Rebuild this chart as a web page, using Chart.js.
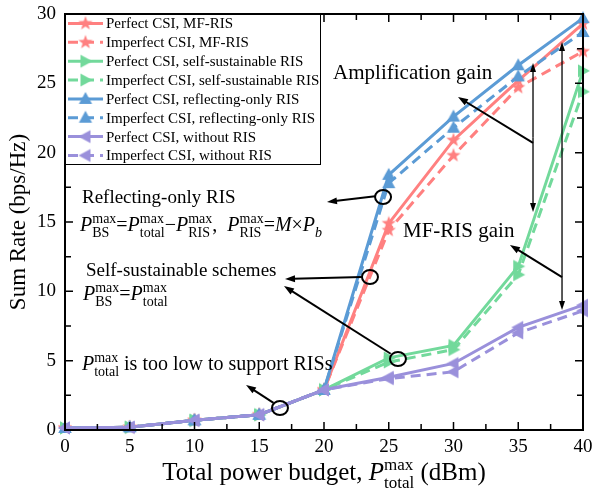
<!DOCTYPE html>
<html>
<head>
<meta charset="utf-8">
<script src="https://cdn.jsdelivr.net/npm/chart.js@4/dist/chart.umd.min.js"></script>
<style>html,body{margin:0;padding:0;background:#fff}</style>
</head>
<body>
<canvas id="c" width="592" height="491"></canvas>
<script>
// data
const powerBudget = [0, 5, 10, 15, 20, 25, 30, 35, 40];
const mfPerfect     = [0.15, 0.2, 0.7, 1.1, 2.9, 14.9, 20.9, 25.2, 29.3];
const mfImperfect   = [0.15, 0.2, 0.7, 1.1, 2.9, 14.4, 19.8, 24.7, 27.3];
const ssPerfect     = [0.15, 0.2, 0.7, 1.1, 2.9, 5.2, 6.1, 11.8, 25.9];
const ssImperfect   = [0.15, 0.2, 0.7, 1.1, 2.9, 4.9, 5.8, 11.2, 24.4];
const refPerfect    = [0.15, 0.2, 0.7, 1.1, 2.9, 18.4, 22.6, 26.3, 29.7];
const refImperfect  = [0.15, 0.2, 0.7, 1.1, 2.9, 17.8, 21.8, 25.5, 28.7];
const noRisPerfect  = [0.15, 0.2, 0.7, 1.1, 2.9, 3.8, 4.8, 7.4, 9.0];
const noRisImperfect= [0.15, 0.2, 0.7, 1.1, 2.9, 3.7, 4.2, 7.0, 8.6];
const legendLabels = [
  'Perfect CSI, MF-RIS', 'Imperfect CSI, MF-RIS',
  'Perfect CSI, self-sustainable RIS', 'Imperfect CSI, self-sustainable RIS',
  'Perfect CSI, reflecting-only RIS', 'Imperfect CSI, reflecting-only RIS',
  'Perfect CSI, without RIS', 'Imperfect CSI, without RIS'
];
const xTicks = [0, 5, 10, 15, 20, 25, 30, 35, 40];
const yTicks = [0, 5, 10, 15, 20, 25, 30];

const RED = '#ff8080', GREEN = '#72d99b', BLUE = '#5b9bd5', PURPLE = '#9a90db';
const SERIF = '"Liberation Serif", "Times New Roman", serif';

function makeMarker(shape, color) {
  const c = document.createElement('canvas');
  c.width = 16; c.height = 16;
  const g = c.getContext('2d');
  g.fillStyle = color;
  g.translate(8, 8);
  g.beginPath();
  if (shape === 'star') {
    for (let i = 0; i < 10; i++) {
      const r = i % 2 ? 3.1 : 7.5;
      const a = -Math.PI / 2 + i * Math.PI / 5;
      g.lineTo(r * Math.cos(a), r * Math.sin(a));
    }
  } else {
    const rot = {up: 0, right: Math.PI / 2, left: -Math.PI / 2}[shape];
    g.rotate(rot);
    g.moveTo(0, -7);
    g.lineTo(6.6, 5);
    g.lineTo(-6.6, 5);
  }
  g.closePath();
  g.fill();
  return c;
}

const series = [
  [mfPerfect, RED, 'star', false], [mfImperfect, RED, 'star', true],
  [ssPerfect, GREEN, 'right', false], [ssImperfect, GREEN, 'right', true],
  [refPerfect, BLUE, 'up', false], [refImperfect, BLUE, 'up', true],
  [noRisPerfect, PURPLE, 'left', false], [noRisImperfect, PURPLE, 'left', true]
];

const datasets = series.map((s, i) => ({
  label: legendLabels[i],
  data: powerBudget.map((x, j) => ({x: x, y: s[0][j]})),
  borderColor: s[1],
  backgroundColor: s[1],
  borderWidth: 3,
  borderDash: s[3] ? [10, 6] : [],
  pointStyle: makeMarker(s[2], s[1]),
  pointRadius: 6,
  tension: 0,
  clip: false,
  order: 8 - i
}));

// rich text, items are {t, i} or {s, b} (stacked super/sub)
function richText(ctx, x, y, items, F) {
  let cx = x;
  ctx.textBaseline = 'alphabetic';
  ctx.textAlign = 'left';
  for (const it of items) {
    if (it.s !== undefined || it.b !== undefined) {
      const fs = Math.round(F * 0.68);
      let w = 0;
      if (it.s) {
        ctx.font = fs + 'px ' + SERIF;
        ctx.fillText(it.s, cx, y - F * 0.4);
        w = Math.max(w, ctx.measureText(it.s).width);
      }
      if (it.b) {
        ctx.font = (it.bi ? 'italic ' : '') + fs + 'px ' + SERIF;
        ctx.fillText(it.b, cx, y + F * 0.3);
        w = Math.max(w, ctx.measureText(it.b).width);
      }
      cx += w;
    } else {
      ctx.font = (it.i ? 'italic ' : '') + F + 'px ' + SERIF;
      ctx.fillText(it.t, cx, y);
      cx += ctx.measureText(it.t).width;
    }
  }
  return cx - x;
}

function arrow(ctx, x1, y1, x2, y2, lw, hl, hw) {
  const a = Math.atan2(y2 - y1, x2 - x1);
  ctx.lineWidth = lw;
  ctx.beginPath();
  ctx.moveTo(x1, y1);
  ctx.lineTo(x2 - Math.cos(a) * hl * 0.8, y2 - Math.sin(a) * hl * 0.8);
  ctx.stroke();
  ctx.beginPath();
  ctx.moveTo(x2, y2);
  ctx.lineTo(x2 - hl * Math.cos(a) + hw * Math.sin(a), y2 - hl * Math.sin(a) - hw * Math.cos(a));
  ctx.lineTo(x2 - hl * Math.cos(a) - hw * Math.sin(a), y2 - hl * Math.sin(a) + hw * Math.cos(a));
  ctx.closePath();
  ctx.fill();
}

const framePlugin = {
  id: 'frame',
  afterDatasetsDraw(chart) {
    const ctx = chart.ctx, a = chart.chartArea;
    const xs = chart.scales.x, ys = chart.scales.y;
    const X = v => xs.getPixelForValue(v), Y = v => ys.getPixelForValue(v);
    ctx.save();
    ctx.strokeStyle = '#000';
    ctx.fillStyle = '#000';
    ctx.lineWidth = 2;
    ctx.strokeRect(a.left, a.top, a.right - a.left, a.bottom - a.top);
    ctx.lineWidth = 1.5;
    ctx.beginPath();
    for (let v = 0; v <= 40; v += 2.5) {
      const l = v % 5 === 0 ? 8 : 6, px = X(v);
      ctx.moveTo(px, a.bottom); ctx.lineTo(px, a.bottom - l);
      ctx.moveTo(px, a.top); ctx.lineTo(px, a.top + l);
    }
    for (let v = 0; v <= 30; v += 2.5) {
      const l = v % 5 === 0 ? 8 : 6, py = Y(v);
      ctx.moveTo(a.left, py); ctx.lineTo(a.left + l, py);
      ctx.moveTo(a.right, py); ctx.lineTo(a.right - l, py);
    }
    ctx.stroke();

    // circles marking the operating points
    ctx.lineWidth = 2;
    [[24.56, 16.8], [23.55, 11.03], [25.71, 5.12], [16.6, 1.59]].forEach(p => {
      ctx.beginPath();
      ctx.ellipse(X(p[0]), Y(p[1]), 8, 7, 0, 0, Math.PI * 2);
      ctx.stroke();
    });
    // arrows
    const arr = [
      [23.95, 16.85, 20.23, 16.44], [22.95, 11.03, 16.99, 10.89],
      [25.15, 5.5, 16.91, 10.38], [16.1, 1.95, 13.98, 3.25],
      [38.38, 11.03, 34.36, 13.34], [36.14, 20.7, 30.35, 24.01]
    ];
    arr.forEach(r => arrow(ctx, X(r[0]), Y(r[1]), X(r[2]), Y(r[3]), 2, 10, 3.5));
    // double arrows
    [[36.14, 26.47, 15.72], [38.38, 27.98, 8.65]].forEach(d => {
      const px = X(d[0]), y1 = Y(d[1]), y2 = Y(d[2]), m = (y1 + y2) / 2;
      arrow(ctx, px, m, px, y1, 1.3, 9, 3);
      arrow(ctx, px, m, px, y2, 1.3, 9, 3);
    });

    // annotation text
    ctx.fillStyle = '#000';
    richText(ctx, X(20.7), Y(25.82) + 7, [{t: 'Amplification gain'}], 21);
    richText(ctx, X(26.1), Y(14.42) + 7, [{t: 'MF-RIS gain'}], 21);
    richText(ctx, X(1.31), Y(16.8) + 6, [{t: 'Reflecting-only RIS'}], 19);
    richText(ctx, X(1.16), Y(14.85) + 7, [
      {t: 'P', i: true}, {s: 'max', b: 'BS'}, {t: '='},
      {t: 'P', i: true}, {s: 'max', b: 'total'}, {t: '\u2212'},
      {t: 'P', i: true}, {s: 'max', b: 'RIS'}, {t: ',  '},
      {t: 'P', i: true}, {s: 'max', b: 'RIS'}, {t: '='},
      {t: 'M', i: true}, {t: '\u00d7'}, {t: 'P', i: true}, {b: 'b', bi: true}
    ], 20);
    richText(ctx, X(1.62), Y(11.54) + 6, [{t: 'Self-sustainable schemes'}], 19);
    richText(ctx, X(1.39), Y(9.88) + 7, [
      {t: 'P', i: true}, {s: 'max', b: 'BS'}, {t: '='},
      {t: 'P', i: true}, {s: 'max', b: 'total'}
    ], 20);
    richText(ctx, X(1.31), Y(4.83) + 7, [
      {t: 'P', i: true}, {s: 'max', b: 'total'}, {t: ' is too low to support RISs'}
    ], 20);

    // legend
    const lx = a.left, ly = a.top, lw = 255, lh = 150;
    ctx.fillStyle = '#fff';
    ctx.fillRect(lx, ly, lw, lh);
    ctx.lineWidth = 1;
    ctx.strokeStyle = '#000';
    ctx.strokeRect(lx + 0.5, ly + 0.5, lw, lh);
    chart.data.datasets.forEach((ds, i) => {
      const cy = ly + 9.5 + i * 18.85;
      ctx.strokeStyle = ds.borderColor;
      ctx.lineWidth = 3;
      ctx.setLineDash(ds.borderDash);
      ctx.beginPath();
      ctx.moveTo(lx + 3, cy); ctx.lineTo(lx + 38, cy);
      ctx.stroke();
      ctx.setLineDash([]);
      ctx.drawImage(ds.pointStyle, lx + 20.5 - 8, cy - 8);
      ctx.fillStyle = '#000';
      ctx.font = '15px ' + SERIF;
      ctx.textBaseline = 'middle';
      ctx.fillText(ds.label, lx + 41, cy + 1);
    });

    // x axis title
    ctx.fillStyle = '#000';
    const xt = [{t: 'Total power budget, '}, {t: 'P', i: true}, {s: 'max', b: 'total'}, {t: ' (dBm)'}];
    const tmp = document.createElement('canvas').getContext('2d');
    const w = richText(tmp, 0, 0, xt, 25);
    richText(ctx, 324 - w / 2, 480, xt, 25);
    ctx.restore();
  }
};

new Chart(document.getElementById('c'), {
  type: 'line',
  data: {datasets: datasets},
  options: {
    responsive: false,
    animation: false,
    devicePixelRatio: 1,
    layout: {padding: {top: 14, right: 9, left: 0, bottom: 0}},
    plugins: {legend: {display: false}, tooltip: {enabled: false}},
    scales: {
      x: {
        type: 'linear', min: 0, max: 40,
        afterBuildTicks: s => { s.ticks = xTicks.map(v => ({value: v})); },
        ticks: {font: {family: SERIF, size: 19}, color: '#000', padding: 6, maxRotation: 0},
        grid: {display: false, drawTicks: false},
        border: {display: false},
        afterFit: s => { s.height = 61; s.paddingLeft = 0; s.paddingRight = 0; }
      },
      y: {
        min: 0, max: 30,
        afterBuildTicks: s => { s.ticks = yTicks.map(v => ({value: v})); },
        ticks: {font: {family: SERIF, size: 19}, color: '#000', padding: 9},
        grid: {display: false, drawTicks: false},
        border: {display: false},
        title: {display: true, text: 'Sum Rate (bps/Hz)', color: '#000',
                font: {family: SERIF, size: 23}, padding: {top: 5, bottom: 0}},
        afterFit: s => { s.width = 65; s.paddingTop = 0; s.paddingBottom = 0; }
      }
    }
  },
  plugins: [framePlugin]
});
</script>
</body>
</html>
